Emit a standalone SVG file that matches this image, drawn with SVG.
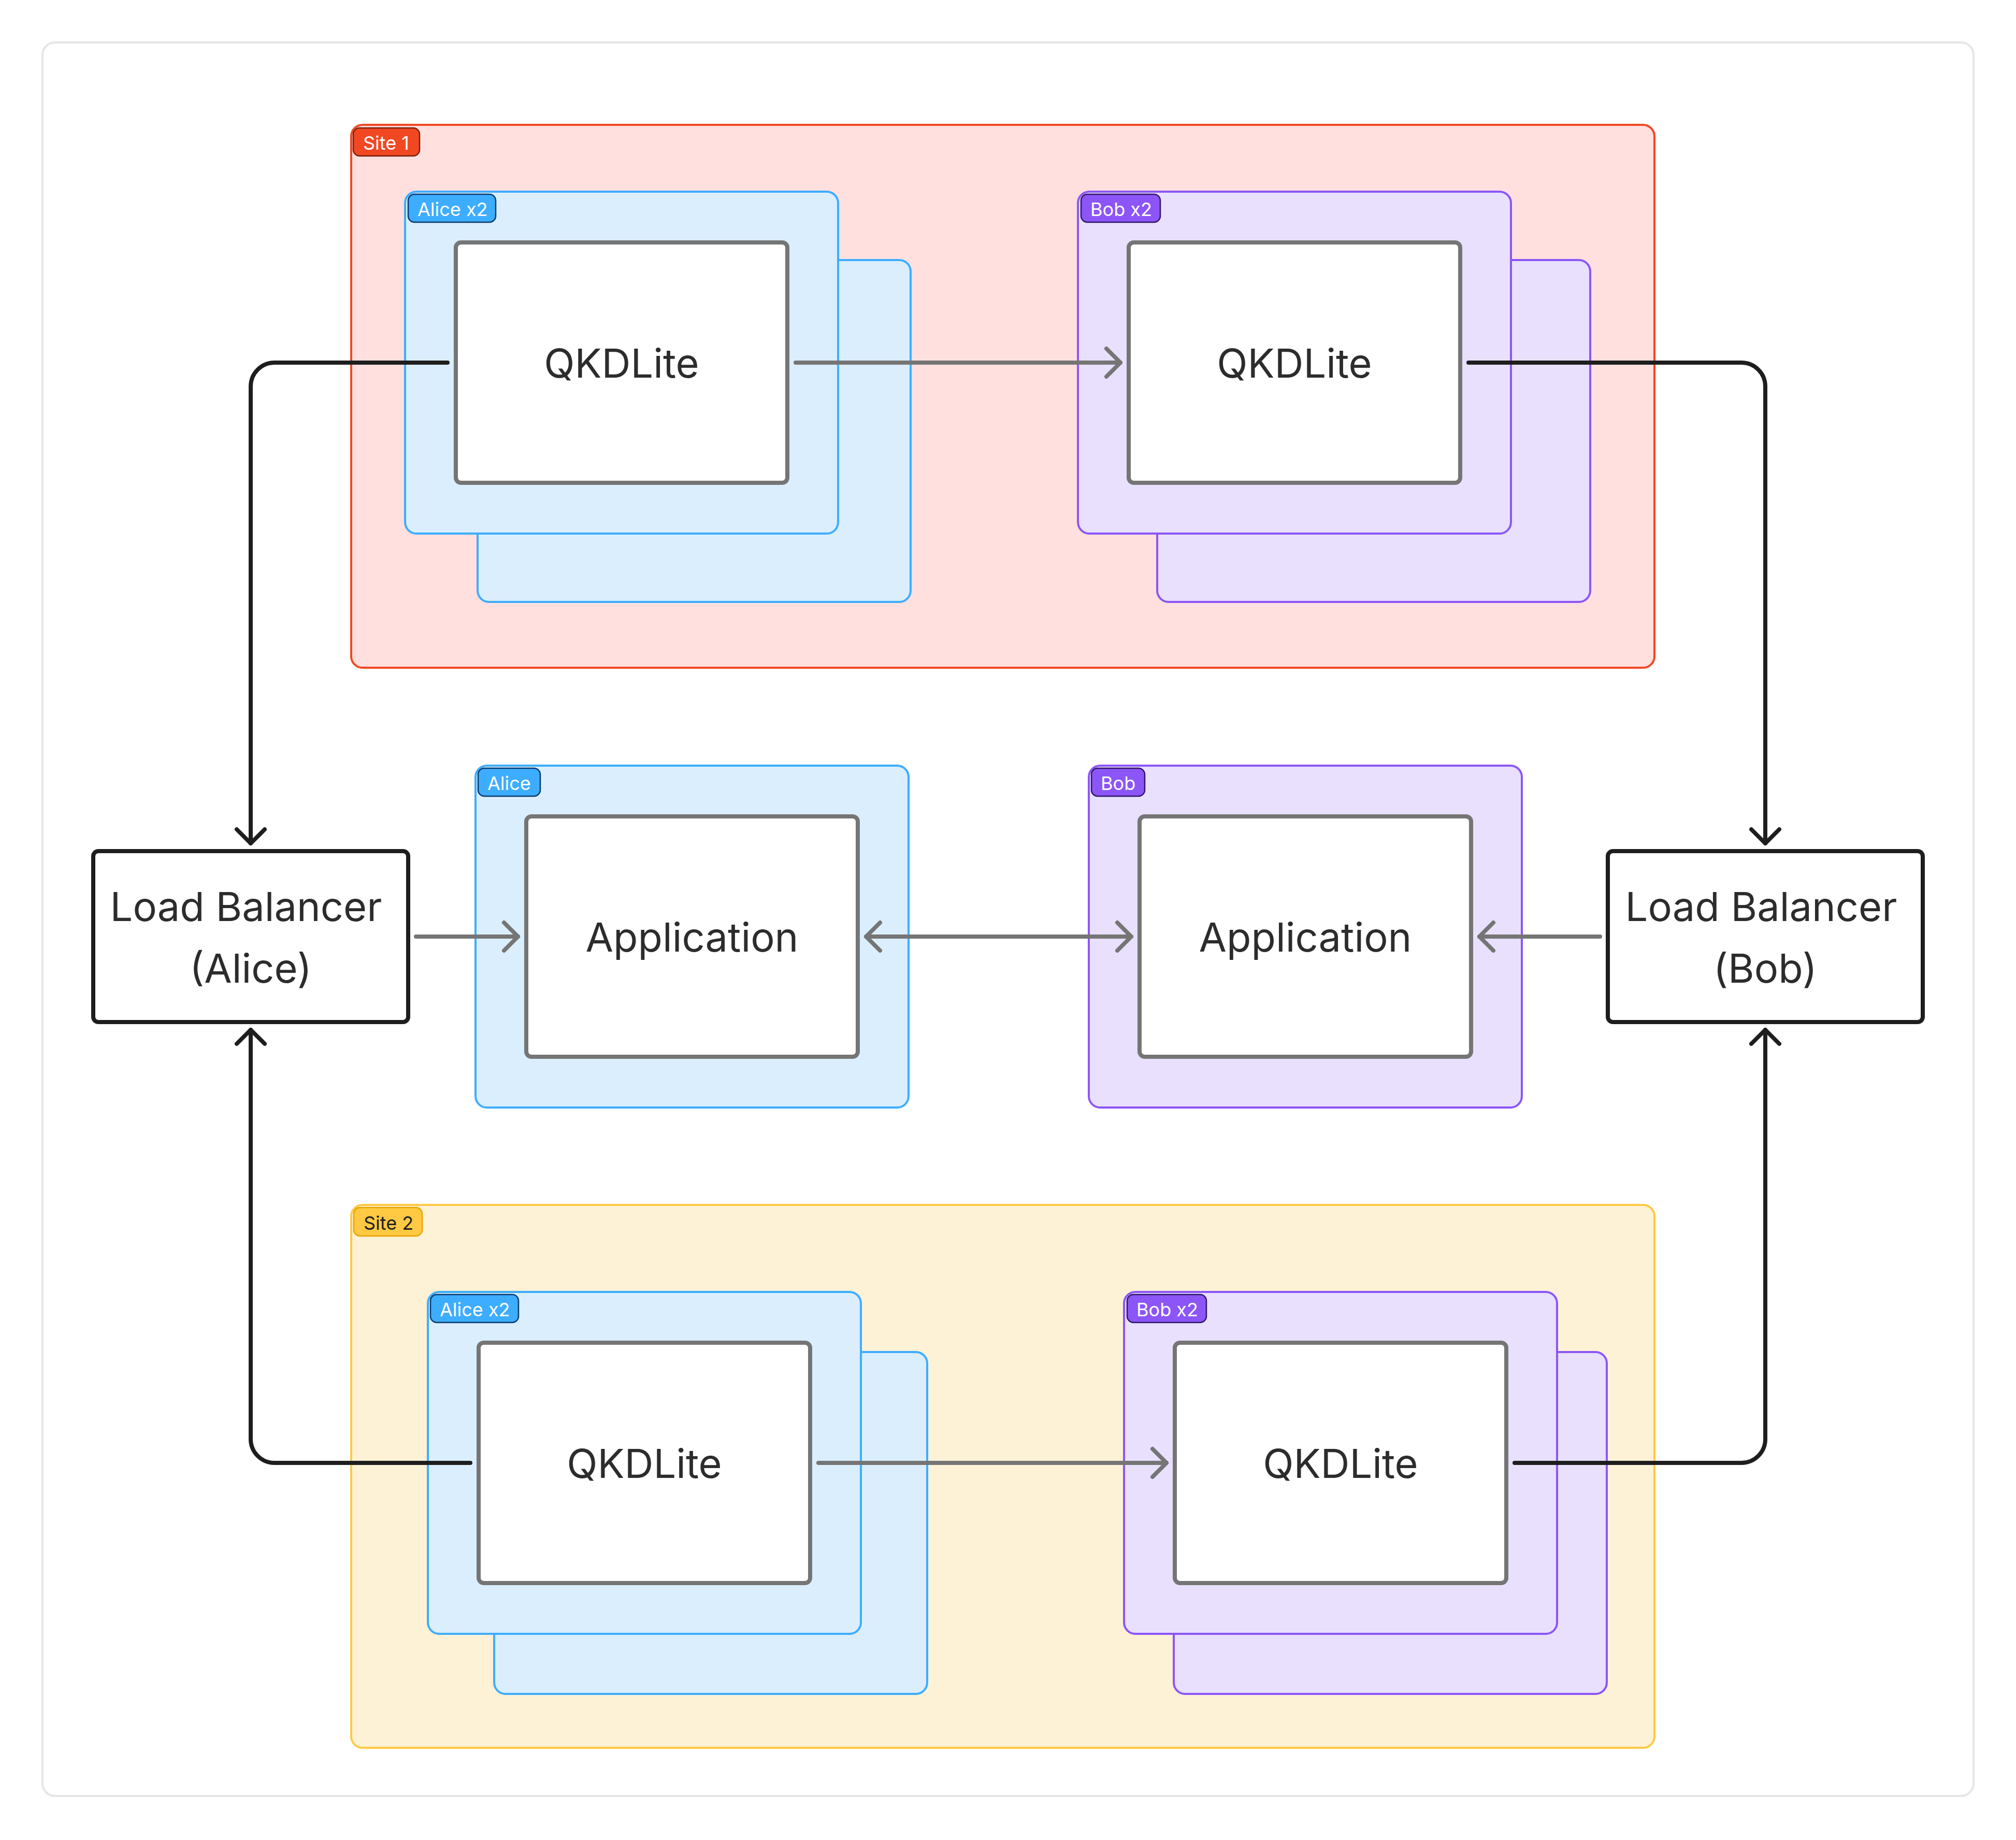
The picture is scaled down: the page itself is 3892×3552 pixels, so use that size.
<svg xmlns="http://www.w3.org/2000/svg" width="3892" height="3552" viewBox="0 0 3892 3552">
<style>
.frame{fill:#ffffff;stroke:#e6e6e6;stroke-width:4}
.site1{fill:#ffe0de;stroke:#f24822;stroke-width:4}
.site2{fill:#fdf2d6;stroke:#ffc943;stroke-width:4}
.alice{fill:#daeefd;stroke:#3dadff;stroke-width:4}
.bob{fill:#e8e0fd;stroke:#8c55f8;stroke-width:4}
.inner{fill:#ffffff;stroke:#757575;stroke-width:8}
.lb{fill:#ffffff;stroke:#1e1e1e;stroke-width:8}
.lbl-site1{fill:#f24822;stroke:#7a1f0c;stroke-width:2.5}
.lbl-site2{fill:#ffc943;stroke:#e8a300;stroke-width:2.5}
.lbl-alice{fill:#3dadff;stroke:#0b3a6c;stroke-width:2.5}
.lbl-bob{fill:#8c55f8;stroke:#2f1668;stroke-width:2.5}
.tag{font-family:Inter,"Liberation Sans",sans-serif;font-size:36px;fill:#ffffff}
.tag-dark{font-family:Inter,"Liberation Sans",sans-serif;font-size:36px;fill:#1e1e1e}
.big{font-family:Inter,"Liberation Sans",sans-serif;font-size:77.5px;fill:#2c2c2c;text-anchor:middle}
.gray{fill:none;stroke:#757575;stroke-width:8;stroke-linecap:round;stroke-linejoin:round}
.black{fill:none;stroke:#1e1e1e;stroke-width:8;stroke-linecap:round;stroke-linejoin:round}
</style>
<defs>
<marker id="ah-gray" markerUnits="userSpaceOnUse" viewBox="-40 -40 80 80" markerWidth="80" markerHeight="80" refX="0" refY="0" orient="auto-start-reverse" overflow="visible">
<path d="M -27 -27 L 0 0 L -27 27" fill="none" stroke="#757575" stroke-width="8" stroke-linecap="round" stroke-linejoin="round"/>
</marker>
<marker id="ah-black" markerUnits="userSpaceOnUse" viewBox="-40 -40 80 80" markerWidth="80" markerHeight="80" refX="0" refY="0" orient="auto-start-reverse" overflow="visible">
<path d="M -27 -27 L 0 0 L -27 27" fill="none" stroke="#1e1e1e" stroke-width="8" stroke-linecap="round" stroke-linejoin="round"/>
</marker>
</defs>

<rect id="canvas-frame" class="frame" x="82" y="82" width="3728" height="3385" rx="24"/>

<g id="site1">
<rect class="site1" x="678" y="241" width="2516" height="1048" rx="22"/>
<rect class="lbl-site1" x="682" y="247" width="128" height="54" rx="12"/>
<text class="tag" x="701" y="289">Site 1</text>
</g>

<g id="site2">
<rect class="site2" x="678" y="2326" width="2516" height="1048" rx="22"/>
<rect class="lbl-site2" x="683" y="2331" width="132" height="55" rx="12"/>
<text class="tag-dark" x="702" y="2374">Site 2</text>
</g>

<g id="alice-site1">
<rect class="alice" x="922" y="502" width="836" height="660" rx="22"/>
<rect class="alice" x="782" y="370" width="836" height="660" rx="22"/>
<rect class="lbl-alice" x="788" y="375" width="169" height="54" rx="12"/>
<text class="tag" x="806" y="417">Alice x2</text>
</g>
<g id="qkd-alice-site1">
<rect class="inner" x="880" y="468" width="640" height="464" rx="10"/>
<text class="big" x="1200" y="729">QKDLite</text>
</g>

<g id="bob-site1">
<rect class="bob" x="2234" y="502" width="836" height="660" rx="22"/>
<rect class="bob" x="2081" y="370" width="836" height="660" rx="22"/>
<rect class="lbl-bob" x="2087" y="375" width="153" height="54" rx="12"/>
<text class="tag" x="2105" y="417">Bob x2</text>
</g>
<g id="qkd-bob-site1">
<rect class="inner" x="2179" y="468" width="640" height="464" rx="10"/>
<text class="big" x="2499" y="729">QKDLite</text>
</g>

<g id="alice-app-group">
<rect class="alice" x="918" y="1478" width="836" height="660" rx="22"/>
<rect class="lbl-alice" x="923" y="1483" width="120" height="54" rx="12"/>
<text class="tag" x="941" y="1525">Alice</text>
</g>
<g id="app-alice">
<rect class="inner" x="1016" y="1576" width="640" height="464" rx="10"/>
<text class="big" x="1336" y="1837">Application</text>
</g>

<g id="bob-app-group">
<rect class="bob" x="2102" y="1478" width="836" height="660" rx="22"/>
<rect class="lbl-bob" x="2107" y="1483" width="103" height="54" rx="12"/>
<text class="tag" x="2125" y="1525">Bob</text>
</g>
<g id="app-bob">
<rect class="inner" x="2200" y="1576" width="640" height="464" rx="10"/>
<text class="big" x="2520" y="1837">Application</text>
</g>

<g id="lb-alice">
<rect class="lb" x="180" y="1643" width="608" height="330" rx="10"/>
<text class="big" x="475" y="1778">Load Balancer</text>
<text class="big" x="484" y="1897">(Alice)</text>
</g>

<g id="lb-bob">
<rect class="lb" x="3104" y="1643" width="608" height="330" rx="10"/>
<text class="big" x="3400" y="1778">Load Balancer</text>
<text class="big" x="3408" y="1897">(Bob)</text>
</g>

<g id="alice-site2">
<rect class="alice" x="954" y="2610" width="836" height="660" rx="22"/>
<rect class="alice" x="826" y="2494" width="836" height="660" rx="22"/>
<rect class="lbl-alice" x="831" y="2499" width="170" height="54" rx="12"/>
<text class="tag" x="849" y="2541">Alice x2</text>
</g>
<g id="qkd-alice-site2">
<rect class="inner" x="924" y="2592" width="640" height="464" rx="10"/>
<text class="big" x="1244" y="2853">QKDLite</text>
</g>

<g id="bob-site2">
<rect class="bob" x="2266" y="2610" width="836" height="660" rx="22"/>
<rect class="bob" x="2170" y="2494" width="836" height="660" rx="22"/>
<rect class="lbl-bob" x="2176" y="2499" width="153" height="54" rx="12"/>
<text class="tag" x="2194" y="2541">Bob x2</text>
</g>
<g id="qkd-bob-site2">
<rect class="inner" x="2268" y="2592" width="640" height="464" rx="10"/>
<text class="big" x="2588" y="2853">QKDLite</text>
</g>

<g id="connectors">
<path class="black" d="M 864 700 H 530 A 46 46 0 0 0 484 746 V 1628" marker-end="url(#ah-black)"/>
<path class="black" d="M 2835 700 H 3362 A 46 46 0 0 1 3408 746 V 1628" marker-end="url(#ah-black)"/>
<path class="black" d="M 908 2824 H 530 A 46 46 0 0 1 484 2778 V 1988" marker-end="url(#ah-black)"/>
<path class="black" d="M 2924 2824 H 3362 A 46 46 0 0 0 3408 2778 V 1988" marker-end="url(#ah-black)"/>
<path class="gray" d="M 1536 700 H 2163" marker-end="url(#ah-gray)"/>
<path class="gray" d="M 1580 2824 H 2252" marker-end="url(#ah-gray)"/>
<path class="gray" d="M 803 1808 H 1000" marker-end="url(#ah-gray)"/>
<path class="gray" d="M 3089 1808 H 2856" marker-end="url(#ah-gray)"/>
<path class="gray" d="M 1672 1808 H 2184" marker-start="url(#ah-gray)" marker-end="url(#ah-gray)"/>
</g>
</svg>
